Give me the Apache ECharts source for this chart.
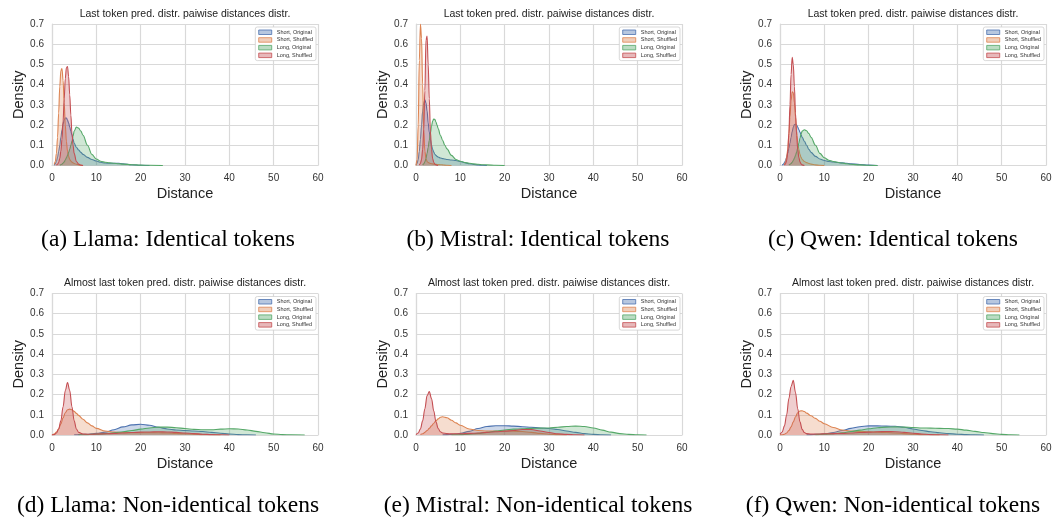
<!DOCTYPE html>
<html>
<head>
<meta charset="utf-8">
<script src="https://cdn.jsdelivr.net/npm/echarts@6/dist/echarts.min.js"></script>
<style>
  html, body { margin: 0; padding: 0; background: #fff; }
  #chart { width: 1061px; height: 521px; }
</style>
</head>
<body>
<div id="chart"></div>
<script>
// x positions the densities were read at
const topX = [0, 0.25, 0.5, 0.75, 1, 1.25, 1.5, 1.75, 2, 2.25, 2.5, 2.75, 3, 3.25, 3.5, 3.75, 4, 4.25, 4.5, 4.75, 5, 5.5, 6, 6.5, 7, 8, 9, 10, 11, 12, 13, 14, 15, 16, 18, 20, 22, 25];
const bottomX = [0, 0.5, 1, 1.5, 2, 2.5, 3, 3.5, 4, 4.5, 5, 5.5, 6, 7, 8, 9, 10, 12, 14, 16, 18, 20, 22, 24, 26, 28, 30, 32, 34, 36, 38, 40, 42, 44, 46, 48, 50, 52, 54, 57];

const seriesNames = ['Short, Original', 'Short, Shuffled', 'Long, Original', 'Long, Shuffled'];
const colors = ['#4C72B0', '#DD8452', '#55A868', '#C44E52'];

// (a) Llama, identical tokens
const llamaIdShortOrig = [null, null, 0.002, 0.008, 0.02, 0.04, 0.07, 0.1, 0.14, 0.175, 0.205, 0.225, 0.235, 0.235, 0.225, 0.21, 0.19, 0.17, 0.15, 0.13, 0.11, 0.09, 0.077, 0.065, 0.055, 0.04, 0.03, 0.022, 0.016, 0.012, 0.011, 0.011, 0.011, 0.009, 0.004, 0.001, 0];
const llamaIdShortShuf = [null, null, 0.005, 0.02, 0.06, 0.14, 0.26, 0.39, 0.47, 0.48, 0.42, 0.31, 0.2, 0.12, 0.07, 0.045, 0.03, 0.022, 0.017, 0.013, 0.01, 0.006, 0.003, 0.001, 0];
const llamaIdLongOrig = [null, null, null, null, null, null, null, 0.002, 0.004, 0.007, 0.012, 0.018, 0.027, 0.038, 0.05, 0.065, 0.08, 0.1, 0.12, 0.145, 0.17, 0.19, 0.185, 0.17, 0.15, 0.1, 0.055, 0.032, 0.021, 0.016, 0.013, 0.011, 0.009, 0.007, 0.004, 0.002, 0.001, 0];
const llamaIdLongShuf = [null, null, null, null, 0.002, 0.006, 0.015, 0.035, 0.07, 0.13, 0.22, 0.33, 0.43, 0.485, 0.49, 0.44, 0.35, 0.25, 0.16, 0.1, 0.06, 0.02, 0.007, 0.002, 0];

// (b) Mistral, identical tokens
const mistralIdShortOrig = [0.002, 0.01, 0.03, 0.07, 0.13, 0.2, 0.27, 0.31, 0.325, 0.31, 0.27, 0.21, 0.165, 0.13, 0.1, 0.08, 0.066, 0.056, 0.05, 0.045, 0.042, 0.037, 0.034, 0.032, 0.03, 0.027, 0.025, 0.02, 0.014, 0.009, 0.005, 0.003, 0.001, 0];
const mistralIdShortShuf = [0, 0.03, 0.2, 0.52, 0.7, 0.63, 0.4, 0.18, 0.07, 0.035, 0.02, 0.015, 0.012, 0.01, 0.009, 0.008, 0.007, 0.006, 0.006, 0.005, 0.005, 0.004, 0.003, 0.002, 0.001, 0];
const mistralIdLongOrig = [null, null, null, null, null, null, 0.003, 0.008, 0.018, 0.035, 0.06, 0.09, 0.125, 0.16, 0.195, 0.22, 0.23, 0.228, 0.215, 0.2, 0.183, 0.15, 0.125, 0.1, 0.082, 0.05, 0.03, 0.021, 0.015, 0.011, 0.008, 0.006, 0.004, 0.003, 0.001, 0];
const mistralIdLongShuf = [null, null, null, 0.002, 0.01, 0.03, 0.08, 0.18, 0.37, 0.62, 0.64, 0.5, 0.33, 0.17, 0.08, 0.035, 0.015, 0.007, 0.003, 0.001, 0];

// (c) Qwen, identical tokens
const qwenIdShortOrig = [null, null, 0.002, 0.006, 0.013, 0.025, 0.04, 0.06, 0.085, 0.11, 0.14, 0.168, 0.19, 0.202, 0.205, 0.2, 0.19, 0.178, 0.165, 0.152, 0.14, 0.12, 0.1, 0.08, 0.065, 0.045, 0.032, 0.025, 0.02, 0.017, 0.015, 0.013, 0.011, 0.009, 0.005, 0.002, 0];
const qwenIdShortShuf = [null, null, null, null, 0.005, 0.015, 0.04, 0.08, 0.15, 0.24, 0.32, 0.365, 0.36, 0.31, 0.24, 0.17, 0.115, 0.08, 0.055, 0.04, 0.03, 0.02, 0.014, 0.01, 0.007, 0.003, 0.001, 0];
const qwenIdLongOrig = [null, null, null, null, null, null, null, null, 0.003, 0.006, 0.01, 0.016, 0.025, 0.036, 0.05, 0.067, 0.088, 0.11, 0.135, 0.155, 0.17, 0.177, 0.172, 0.158, 0.14, 0.1, 0.06, 0.038, 0.026, 0.02, 0.016, 0.012, 0.009, 0.006, 0.003, 0.001, 0];
const qwenIdLongShuf = [null, null, null, null, 0.002, 0.008, 0.025, 0.07, 0.16, 0.3, 0.45, 0.535, 0.5, 0.39, 0.26, 0.15, 0.08, 0.04, 0.018, 0.008, 0.003, 0];

// (d) Llama, non-identical tokens
const llamaNonShortOrig = [null, null, null, null, null, null, null, null, null, null, 0.001, 0.001, 0.002, 0.003, 0.004, 0.006, 0.008, 0.014, 0.026, 0.04, 0.05, 0.053, 0.048, 0.038, 0.03, 0.025, 0.022, 0.02, 0.017, 0.013, 0.009, 0.005, 0.002, 0.001, 0];
const llamaNonShortShuf = [0, 0.005, 0.015, 0.03, 0.055, 0.085, 0.11, 0.125, 0.128, 0.125, 0.117, 0.107, 0.097, 0.078, 0.06, 0.045, 0.033, 0.02, 0.014, 0.012, 0.011, 0.011, 0.011, 0.011, 0.01, 0.008, 0.006, 0.004, 0.002, 0.001, 0];
const llamaNonLongOrig = [null, null, null, null, null, null, null, null, null, null, null, null, 0.001, 0.001, 0.002, 0.003, 0.004, 0.007, 0.011, 0.016, 0.022, 0.029, 0.035, 0.039, 0.039, 0.036, 0.032, 0.028, 0.026, 0.026, 0.029, 0.031, 0.03, 0.025, 0.018, 0.011, 0.005, 0.002, 0.001, 0];
const llamaNonLongShuf = [0, 0.002, 0.01, 0.03, 0.07, 0.14, 0.22, 0.26, 0.22, 0.14, 0.07, 0.03, 0.013, 0.005, 0.004, 0.004, 0.005, 0.006, 0.008, 0.01, 0.012, 0.014, 0.015, 0.016, 0.015, 0.013, 0.01, 0.007, 0.004, 0.002, 0.001, 0];

// (e) Mistral, non-identical tokens
const mistralNonShortOrig = [null, null, null, null, null, null, null, null, null, null, null, null, 0.001, 0.002, 0.003, 0.005, 0.008, 0.018, 0.032, 0.042, 0.046, 0.046, 0.044, 0.041, 0.038, 0.035, 0.032, 0.027, 0.02, 0.013, 0.007, 0.003, 0.001, 0];
const mistralNonShortShuf = [null, null, 0.002, 0.006, 0.013, 0.022, 0.033, 0.045, 0.058, 0.07, 0.08, 0.088, 0.09, 0.085, 0.073, 0.06, 0.048, 0.03, 0.022, 0.02, 0.02, 0.02, 0.019, 0.017, 0.013, 0.008, 0.004, 0.002, 0];
const mistralNonLongOrig = [null, null, null, null, null, null, null, null, null, null, null, null, null, null, 0.001, 0.001, 0.002, 0.004, 0.008, 0.013, 0.019, 0.025, 0.029, 0.031, 0.033, 0.034, 0.035, 0.038, 0.042, 0.044, 0.042, 0.035, 0.024, 0.014, 0.007, 0.003, 0.001, 0];
const mistralNonLongShuf = [0.002, 0.01, 0.03, 0.07, 0.13, 0.195, 0.215, 0.18, 0.12, 0.065, 0.032, 0.016, 0.01, 0.007, 0.006, 0.006, 0.006, 0.008, 0.01, 0.013, 0.016, 0.019, 0.022, 0.027, 0.027, 0.02, 0.012, 0.006, 0.003, 0.001, 0];

// (f) Qwen, non-identical tokens
const qwenNonShortOrig = [null, null, null, null, null, null, null, null, null, null, null, null, 0.001, 0.002, 0.003, 0.004, 0.006, 0.012, 0.022, 0.033, 0.041, 0.045, 0.045, 0.044, 0.043, 0.038, 0.03, 0.022, 0.016, 0.011, 0.007, 0.004, 0.002, 0.001, 0];
const qwenNonShortShuf = [0, 0.001, 0.004, 0.01, 0.022, 0.04, 0.065, 0.09, 0.11, 0.119, 0.12, 0.116, 0.108, 0.095, 0.082, 0.068, 0.056, 0.037, 0.025, 0.02, 0.018, 0.016, 0.014, 0.012, 0.01, 0.007, 0.004, 0.002, 0.001, 0];
const qwenNonLongOrig = [null, null, null, null, null, null, null, null, null, null, null, null, null, null, 0.002, 0.003, 0.004, 0.007, 0.011, 0.017, 0.024, 0.031, 0.036, 0.039, 0.04, 0.039, 0.037, 0.035, 0.034, 0.033, 0.032, 0.029, 0.024, 0.018, 0.012, 0.007, 0.003, 0.001, 0];
const qwenNonLongShuf = [0.003, 0.015, 0.045, 0.1, 0.18, 0.24, 0.27, 0.21, 0.13, 0.065, 0.028, 0.012, 0.007, 0.005, 0.005, 0.005, 0.006, 0.007, 0.008, 0.01, 0.012, 0.014, 0.016, 0.017, 0.016, 0.013, 0.009, 0.005, 0.002, 0.001, 0];

const xTicks = [0, 60];
const yTicks = [0, 0.7];

const topTitle = 'Last token pred. distr. paiwise distances distr.';
const bottomTitle = 'Almost last token pred. distr. paiwise distances distr.';

const panels = [
  { x: topX, ys: [llamaIdShortOrig, llamaIdShortShuf, llamaIdLongOrig, llamaIdLongShuf], title: topTitle, caption: '(a) Llama: Identical tokens' },
  { x: topX, ys: [mistralIdShortOrig, mistralIdShortShuf, mistralIdLongOrig, mistralIdLongShuf], title: topTitle, caption: '(b) Mistral: Identical tokens' },
  { x: topX, ys: [qwenIdShortOrig, qwenIdShortShuf, qwenIdLongOrig, qwenIdLongShuf], title: topTitle, caption: '(c) Qwen: Identical tokens' },
  { x: bottomX, ys: [llamaNonShortOrig, llamaNonShortShuf, llamaNonLongOrig, llamaNonLongShuf], title: bottomTitle, caption: '(d) Llama: Non-identical tokens' },
  { x: bottomX, ys: [mistralNonShortOrig, mistralNonShortShuf, mistralNonLongOrig, mistralNonLongShuf], title: bottomTitle, caption: '(e) Mistral: Non-identical tokens' },
  { x: bottomX, ys: [qwenNonShortOrig, qwenNonShortShuf, qwenNonLongOrig, qwenNonLongShuf], title: bottomTitle, caption: '(f) Qwen: Non-identical tokens' },
];

// layout
const W = 1061;
const lefts = [52, 416, 780];
const tops = [24, 293.5];
const pw = 266, ph = 141.5;
const captionX = [168, 538, 893];
const captionY = [240, 506];

const sans = "'Liberation Sans', Arial, sans-serif";
const gridColor = '#d9d9d9';

function rgba(hex, a) {
  const n = parseInt(hex.slice(1), 16);
  return 'rgba(' + (n >> 16) + ',' + ((n >> 8) & 255) + ',' + (n & 255) + ',' + a + ')';
}

const grid = [], xAxis = [], yAxis = [], series = [], legend = [], graphic = [];

panels.forEach((p, i) => {
  const col = i % 3, row = Math.floor(i / 3);
  const left = lefts[col], top = tops[row];
  grid.push({ left: left, top: top, width: pw, height: ph });
  xAxis.push({
    gridIndex: i, type: 'value', min: xTicks[0], max: xTicks[1], interval: 10,
    name: 'Distance', nameLocation: 'middle', nameGap: 21,
    nameTextStyle: { fontFamily: sans, fontSize: 14.5, color: '#222' },
    axisLine: { show: true, lineStyle: { color: gridColor, width: 1.2 } },
    axisTick: { show: false },
    axisLabel: { margin: 8, fontFamily: sans, fontSize: 10, color: '#333' },
    splitLine: { show: true, lineStyle: { color: gridColor, width: 1.2 } },
  });
  yAxis.push({
    gridIndex: i, type: 'value', min: yTicks[0], max: yTicks[1], interval: 0.1,
    name: 'Density', nameLocation: 'middle', nameGap: 26, nameRotate: 90,
    nameTextStyle: { fontFamily: sans, fontSize: 14.5, color: '#222' },
    axisLine: { show: true, lineStyle: { color: gridColor, width: 1.2 } },
    axisTick: { show: false },
    axisLabel: { margin: 8, fontFamily: sans, fontSize: 10, color: '#333', formatter: v => v.toFixed(1) },
    splitLine: { show: true, lineStyle: { color: gridColor, width: 1.2 } },
  });
  p.ys.forEach((ys, k) => {
    const data = [];
    ys.forEach((v, j) => { if (v !== null) data.push([p.x[j], v]); });
    series.push({
      name: seriesNames[k], type: 'line', xAxisIndex: i, yAxisIndex: i,
      data: data, smooth: 0.35, smoothMonotone: 'x', symbol: 'none',
      lineStyle: { color: colors[k], width: 1.1 },
      itemStyle: { color: colors[k] },
      areaStyle: { color: rgba(colors[k], 0.4) },
      z: 2 + k,
    });
  });
  legend.push({
    orient: 'vertical', right: W - (left + pw) + 2, top: top + 3,
    selectedMode: false, icon: 'rect',
    itemWidth: 13, itemHeight: 4.5, itemGap: 1.2,
    padding: [2, 3, 2, 3],
    backgroundColor: '#fff', borderColor: '#cfcfcf', borderWidth: 0.8, borderRadius: 2,
    textStyle: { fontFamily: sans, fontSize: 5.5, color: '#333', lineHeight: 6.5 },
    data: seriesNames.map((n, k) => ({
      name: n,
      itemStyle: { color: rgba(colors[k], 0.4), borderColor: colors[k], borderWidth: 0.8 },
    })),
  });
  graphic.push({
    type: 'text', x: left + pw / 2, y: top - 10,
    style: { text: p.title, fontFamily: sans, fontSize: 10.5, fill: '#222', textAlign: 'center', textVerticalAlign: 'middle' },
  });
  graphic.push({
    type: 'text', x: captionX[col], y: captionY[row],
    style: { text: p.caption, fontFamily: "'Liberation Serif', 'Times New Roman', serif", fontSize: 23.5, fill: '#000', textAlign: 'center', textVerticalAlign: 'middle' },
  });
});

const chart = echarts.init(document.getElementById('chart'));
chart.setOption({
  animation: false,
  grid: grid,
  xAxis: xAxis,
  yAxis: yAxis,
  legend: legend,
  graphic: graphic,
  series: series,
});
</script>
</body>
</html>
